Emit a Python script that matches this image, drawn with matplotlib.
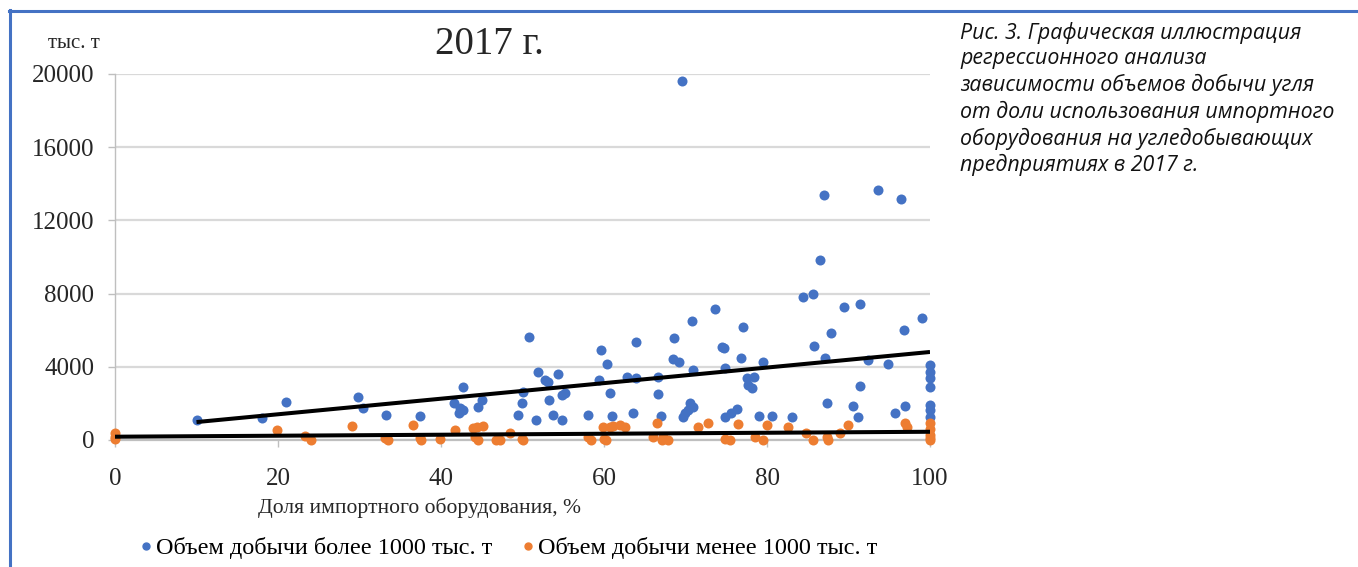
import matplotlib
matplotlib.use("Agg")
import matplotlib.pyplot as plt
from matplotlib.lines import Line2D
import numpy as np

# ---------------- data ----------------
blue_x = [10, 18, 21, 29.8, 30.4, 33.2, 37.4, 41.6, 42.3, 42.7, 42.7, 42.2, 44.5, 45,
          49.5, 49.9, 50.1, 50.8, 51.7, 51.9, 52.8, 53.1, 53.3, 53.8, 54.4, 54.8, 54.8, 55.2,
          58, 59.6, 60.4, 59.4, 60.7, 61, 62.8, 63.9, 63.9, 63.6, 66.6, 66.6, 67, 68.6,
          69.6, 70.8, 68.5, 69.2, 70.9, 70.6, 70.9, 69.9, 70.3, 69.7, 73.6, 74.5, 74.7, 74.8,
          74.8, 75.6, 76.3, 77.1, 76.8, 77.5, 78.4, 77.7, 78.2, 79.5, 79, 80.6, 83.1, 84.4,
          85.6, 86.5, 87, 93.6, 96.4, 89.4, 91.4, 87.9, 85.8, 96.8, 99, 87.1, 92.4, 94.8,
          91.4, 87.4, 90.5, 91.2, 95.7, 96.9, 100, 100, 100, 100, 100, 100, 100]
blue_y = [1090, 1200, 2080, 2350, 1750, 1370, 1310, 2020, 1750, 2900, 1640, 1470, 1800, 2190,
          1370, 2020, 2620, 5630, 1090, 3720, 3280, 3170, 2190, 1370, 3610, 1090, 2460, 2570,
          1370, 4900, 4180, 3280, 2570, 1290, 3420, 5360, 3390, 1470, 3440, 2510, 1310, 5570,
          19600, 6500, 4430, 4260, 3830, 2020, 1800, 1470, 1640, 1260, 7160, 5080, 5030, 3930,
          1260, 1470, 1690, 6170, 4480, 3390, 3440, 3000, 2840, 4260, 1310, 1310, 1260, 7810,
          7980, 9840, 13390, 13660, 13170, 7270, 7430, 5850, 5140, 6010, 6670, 4480, 4370, 4150,
          2950, 2020, 1860, 1260, 1470, 1860, 4100, 3720, 3390, 2900, 1910, 1640, 1260]

orange_x = [0, 0, 0, 19.9, 23.3, 24.1, 29.1, 33.1, 33.5, 36.6, 37.4, 37.6, 39.9, 41.7,
            43.9, 44.4, 45.2, 44.2, 44.6, 46.7, 47.2, 48.5, 49.9, 50.1, 58, 58.4, 59.9, 60.7,
            61.1, 62, 62.6, 60, 60.3, 66, 67.2, 66.5, 67.1, 67.8, 71.5, 72.8, 74.8, 75.4,
            76.4, 78.5, 79.5, 80, 82.6, 84.8, 85.6, 87.4, 87.5, 89, 89.9, 96.9, 97.2,
            100, 100, 100, 100, 100]
orange_y = [400, 160, 50, 550, 220, 0, 770, 110, 0, 820, 110, 0, 50, 550,
            660, 710, 770, 160, 0, 0, 0, 380, 50, 0, 160, 0, 710, 710,
            770, 820, 710, 50, 0, 160, 160, 930, 0, 0, 710, 930, 50, 0,
            870, 160, 0, 820, 710, 380, 0, 160, 0, 380, 820, 930, 710,
            930, 600, 300, 100, 0]

# linear trend lines (endpoints)
blue_trend_x = [10, 100]
blue_trend_y = [980, 4810]
orange_trend_x = [0, 100]
orange_trend_y = [180, 450]

y_ticks = [0, 4000, 8000, 12000, 16000, 20000]
x_ticks = [0, 20, 40, 60, 80, 100]

title = "2017 г."
y_unit = "тыс. т"
x_label = "Доля импортного оборудования, %"
label_blue = "Объем добычи более 1000 тыс. т"
label_orange = "Объем добычи менее 1000 тыс. т"
caption = ("Рис. 3. Графическая иллюстрация\n"
           "регрессионного анализа\n"
           "зависимости объемов добычи угля\n"
           "от доли использования импортного\n"
           "оборудования на угледобывающих\n"
           "предприятиях в 2017 г.")

# ---------------- figure ----------------
W, H = 1358, 567
fig = plt.figure(figsize=(W / 100, H / 100), dpi=100)
fig.patch.set_facecolor("white")

serif = ["Liberation Serif", "DejaVu Serif"]
BLUE = "#4472C4"
ORANGE = "#ED7D31"

def fx(px):
    return px / W

def fy(py):
    return 1 - py / H

ax = fig.add_axes([fx(115), fy(440), fx(930) - fx(115), fy(74) - fy(440)])
ax.set_xlim(0, 100)
ax.set_ylim(0, 20000)

ax.scatter(blue_x, blue_y, s=52, color=BLUE, zorder=3, linewidths=0, clip_on=False)
ax.scatter(orange_x, orange_y, s=52, color=ORANGE, zorder=3, linewidths=0, clip_on=False)
ax.plot(blue_trend_x, blue_trend_y, color="black", lw=2.9, zorder=4, solid_capstyle="butt")
ax.plot(orange_trend_x, orange_trend_y, color="black", lw=2.9, zorder=4, solid_capstyle="butt")

ax.set_yticks(y_ticks)
ax.set_xticks(x_ticks)
ax.set_yticklabels([str(v) for v in y_ticks], fontfamily=serif, fontsize=18, color="#262626")
ax.set_xticklabels([str(v) for v in x_ticks], fontfamily=serif, fontsize=18, color="#262626")
ax.tick_params(axis="y", direction="out", length=5, width=1, color="#bfbfbf", pad=10)
ax.tick_params(axis="x", direction="out", length=5, width=1, color="#bfbfbf", pad=15)

ax.grid(axis="y", color="#d9d9d9", lw=1.6, zorder=0)
ax.set_axisbelow(True)
for s in ["top", "right"]:
    ax.spines[s].set_visible(False)
ax.spines["left"].set_color("#bfbfbf")
ax.spines["left"].set_linewidth(1.0)
ax.spines["bottom"].set_color("#bfbfbf")
ax.spines["bottom"].set_linewidth(1.6)

# texts
fig.text(fx(489), fy(45), title, fontfamily=serif, fontsize=28, ha="center", va="center", color="#262626")
fig.text(fx(74), fy(44), y_unit, fontfamily=serif, fontsize=15, ha="center", va="center", color="#262626")
fig.text(fx(419), fy(508), x_label, fontfamily=serif, fontsize=15.6, ha="center", va="center", color="#262626")

# legend
handles = [Line2D([], [], marker="o", ls="none", color=BLUE, markersize=5),
           Line2D([], [], marker="o", ls="none", color=ORANGE, markersize=5)]
fig.legend(handles, [label_blue, label_orange], loc="center", bbox_to_anchor=(fx(508), fy(548)),
           ncol=2, frameon=False, prop={"family": serif, "size": 17.5},
           handletextpad=0.1, columnspacing=1.2, handlelength=0.6, borderaxespad=0)

# caption
fig.text(fx(960), fy(22), caption, fontfamily=["Open Sans", "DejaVu Sans"], style="italic",
         fontsize=15.4, ha="left", va="top", linespacing=1.27, color="#111111")

# blue frame
fig.add_artist(Line2D([fx(9), 1], [fy(11), fy(11)], color=BLUE, lw=2.2, transform=fig.transFigure))
fig.add_artist(Line2D([fx(10), fx(10)], [fy(10), 0], color=BLUE, lw=2.2, transform=fig.transFigure))

fig.savefig("out.png", dpi=100)
